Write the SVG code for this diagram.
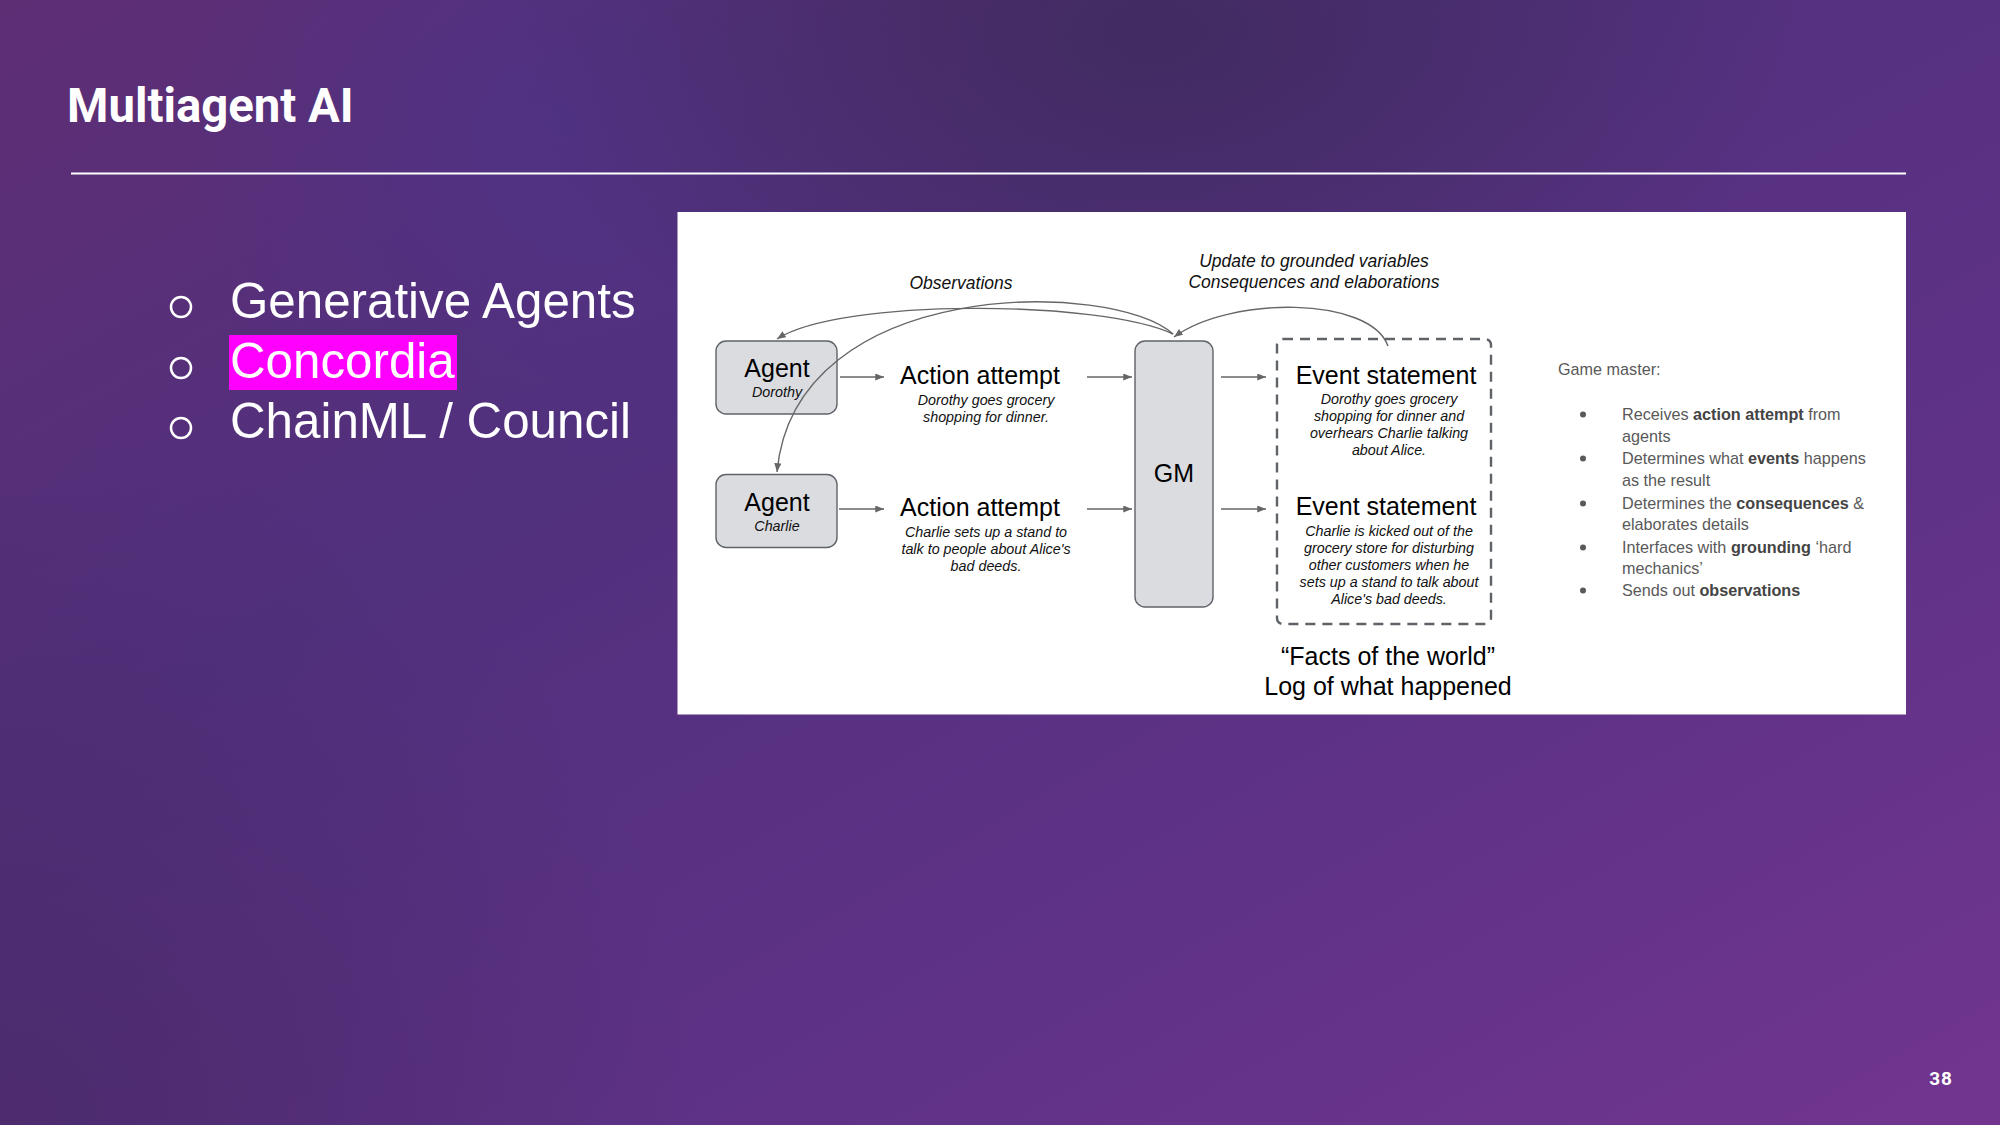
<svg xmlns="http://www.w3.org/2000/svg" width="2000" height="1125" viewBox="0 0 2000 1125">
  <defs>
    <linearGradient id="bg" x1="0" y1="0" x2="1" y2="1">
      <stop offset="0" stop-color="#5e2e75"/>
      <stop offset="0.35" stop-color="#51307d"/>
      <stop offset="0.7" stop-color="#5f3287"/>
      <stop offset="1" stop-color="#72358f"/>
    </linearGradient>
    <radialGradient id="dark" cx="1150" cy="30" r="650" gradientUnits="userSpaceOnUse" gradientTransform="translate(1150 30) scale(1 0.6) translate(-1150 -30)">
      <stop offset="0" stop-color="#3e2a5c" stop-opacity="0.85"/>
      <stop offset="1" stop-color="#3e2a5c" stop-opacity="0"/>
    </radialGradient>
    <radialGradient id="blue" cx="560" cy="120" r="380" gradientUnits="userSpaceOnUse">
      <stop offset="0" stop-color="#4d3388" stop-opacity="0.7"/>
      <stop offset="1" stop-color="#4d3388" stop-opacity="0"/>
    </radialGradient>
    <radialGradient id="bl" cx="0" cy="1125" r="700" gradientUnits="userSpaceOnUse">
      <stop offset="0" stop-color="#4a2968" stop-opacity="0.8"/>
      <stop offset="1" stop-color="#4a2968" stop-opacity="0"/>
    </radialGradient>
    <marker id="ah" viewBox="0 0 10 8" refX="10" refY="4" markerWidth="9" markerHeight="7" markerUnits="userSpaceOnUse" orient="auto">
      <path d="M0,0 L10,4 L0,8 z" fill="#666"/>
    </marker>
    <style>
      .title{font-family:Roboto,"Liberation Sans",sans-serif;font-weight:bold;fill:#fff}
      .bul{font-family:"Liberation Sans",Arial,sans-serif;font-size:49.3px;fill:#fff}
      .box{fill:#dadce0;stroke:#5f6368;stroke-width:1.4}
      .big{font-family:"Liberation Sans",Arial,sans-serif;font-size:25px;fill:#000;text-anchor:middle}
      .sub{font-family:"Liberation Sans",Arial,sans-serif;font-size:14.3px;font-style:italic;fill:#111;text-anchor:middle}
      .lbl{font-family:"Liberation Sans",Arial,sans-serif;font-size:17.5px;font-style:italic;fill:#111;text-anchor:middle}
      .gm{font-family:"Liberation Sans",Arial,sans-serif;font-size:16.2px;fill:#595959}
      .gm tspan.b{font-weight:bold;fill:#444}
      .con{fill:none;stroke:#666;stroke-width:1.4}
    </style>
  </defs>

  <rect width="2000" height="1125" fill="url(#bg)"/>
  <rect width="2000" height="1125" fill="url(#blue)"/>
  <rect width="2000" height="1125" fill="url(#dark)"/>
  <rect width="2000" height="1125" fill="url(#bl)"/>

  <g id="title">
    <text class="title" x="67" y="122" font-size="47.3">Multiagent AI</text>
    <line x1="71" y1="173.5" x2="1906" y2="173.5" stroke="#fff" stroke-width="2"/>
  </g>

  <g id="bullets">
    <circle cx="181" cy="307" r="10" fill="none" stroke="#fff" stroke-width="2.5"/>
    <circle cx="181" cy="368" r="10" fill="none" stroke="#fff" stroke-width="2.5"/>
    <circle cx="181" cy="428" r="10" fill="none" stroke="#fff" stroke-width="2.5"/>
    <text class="bul" x="230" y="318">Generative Agents</text>
    <rect x="229" y="335" width="228" height="55" fill="#ff00ff"/>
    <text class="bul" x="230" y="378">Concordia</text>
    <text class="bul" x="230" y="438">ChainML / Council</text>
  </g>

  <rect id="panel" x="677.5" y="212" width="1228.5" height="502.5" fill="#fff"/>

  <g id="node-agent-dorothy">
    <rect class="box" x="716" y="341" width="121" height="73" rx="10"/>
    <text class="big" x="777" y="377">Agent</text>
    <text class="sub" x="777" y="397" font-size="14.2">Dorothy</text>
  </g>
  <g id="node-agent-charlie">
    <rect class="box" x="716" y="474.5" width="121" height="73" rx="10"/>
    <text class="big" x="777" y="511">Agent</text>
    <text class="sub" x="777" y="531" font-size="14.2">Charlie</text>
  </g>

  <g id="node-action-dorothy">
    <text class="big" x="980" y="384">Action attempt</text>
    <text class="sub" x="986" y="405">Dorothy goes grocery</text>
    <text class="sub" x="986" y="422">shopping for dinner.</text>
  </g>
  <g id="node-action-charlie">
    <text class="big" x="980" y="516">Action attempt</text>
    <text class="sub" x="986" y="537">Charlie sets up a stand to</text>
    <text class="sub" x="986" y="554">talk to people about Alice's</text>
    <text class="sub" x="986" y="571">bad deeds.</text>
  </g>

  <g id="node-gm">
    <rect class="box" x="1135" y="341" width="78" height="266" rx="10"/>
    <text class="big" x="1174" y="482">GM</text>
  </g>

  <g id="node-events">
    <rect x="1277" y="339" width="214" height="285" rx="6" fill="none" stroke="#5f6368" stroke-width="2.4" stroke-dasharray="10 7"/>
    <text class="big" x="1386" y="384">Event statement</text>
    <text class="sub" x="1389" y="404">Dorothy goes grocery</text>
    <text class="sub" x="1389" y="421">shopping for dinner and</text>
    <text class="sub" x="1389" y="438">overhears Charlie talking</text>
    <text class="sub" x="1389" y="455">about Alice.</text>
    <text class="big" x="1386" y="515">Event statement</text>
    <text class="sub" x="1389" y="536">Charlie is kicked out of the</text>
    <text class="sub" x="1389" y="553">grocery store for disturbing</text>
    <text class="sub" x="1389" y="570">other customers when he</text>
    <text class="sub" x="1389" y="587">sets up a stand to talk about</text>
    <text class="sub" x="1389" y="604">Alice's bad deeds.</text>
  </g>

  <g id="label-facts">
    <text class="big" x="1388" y="665">“Facts of the world”</text>
    <text class="big" x="1388" y="695">Log of what happened</text>
  </g>

  <g id="label-observations">
    <text class="lbl" x="961" y="289">Observations</text>
  </g>
  <g id="label-update">
    <text class="lbl" x="1314" y="267" font-size="18">Update to grounded variables</text>
    <text class="lbl" x="1314" y="288" font-size="18">Consequences and elaborations</text>
  </g>

  <g id="connectors">
    <line class="con" x1="840" y1="377" x2="884" y2="377" marker-end="url(#ah)"/>
    <line class="con" x1="839" y1="509" x2="884" y2="509" marker-end="url(#ah)"/>
    <line class="con" x1="1087" y1="377" x2="1132" y2="377" marker-end="url(#ah)"/>
    <line class="con" x1="1087" y1="509" x2="1132" y2="509" marker-end="url(#ah)"/>
    <line class="con" x1="1221" y1="377" x2="1266" y2="377" marker-end="url(#ah)"/>
    <line class="con" x1="1221" y1="509" x2="1266" y2="509" marker-end="url(#ah)"/>
    <path class="con" d="M1173,334 C1100,300 840,298 777,339" marker-end="url(#ah)"/>
    <path class="con" d="M1173,334 C1115,280 795,275 777,472" marker-end="url(#ah)"/>
    <path class="con" d="M1388,346 C1370,296 1230,296 1174,337" marker-end="url(#ah)"/>
  </g>

  <g id="gamemaster-notes">
    <text class="gm" x="1558" y="374.5">Game master:</text>
    <g fill="#595959">
      <circle cx="1583" cy="414.5" r="3"/>
      <circle cx="1583" cy="458.5" r="3"/>
      <circle cx="1583" cy="503.5" r="3"/>
      <circle cx="1583" cy="547.5" r="3"/>
      <circle cx="1583" cy="590.5" r="3"/>
    </g>
    <text class="gm" x="1622" y="419.5">Receives <tspan class="b">action attempt</tspan> from</text>
    <text class="gm" x="1622" y="441.5">agents</text>
    <text class="gm" x="1622" y="463.5">Determines what <tspan class="b">events</tspan> happens</text>
    <text class="gm" x="1622" y="485.5">as the result</text>
    <text class="gm" x="1622" y="508.5">Determines the <tspan class="b">consequences</tspan> &amp;</text>
    <text class="gm" x="1622" y="529.5">elaborates details</text>
    <text class="gm" x="1622" y="552.5">Interfaces with <tspan class="b">grounding</tspan> ‘hard</text>
    <text class="gm" x="1622" y="573.5">mechanics’</text>
    <text class="gm" x="1622" y="595.5">Sends out <tspan class="b">observations</tspan></text>
  </g>

  <text id="page-number" x="1953" y="1085" font-family="Roboto,'Liberation Sans',sans-serif" font-weight="bold" font-size="19" fill="#fff" text-anchor="end" letter-spacing="1">38</text>
</svg>
